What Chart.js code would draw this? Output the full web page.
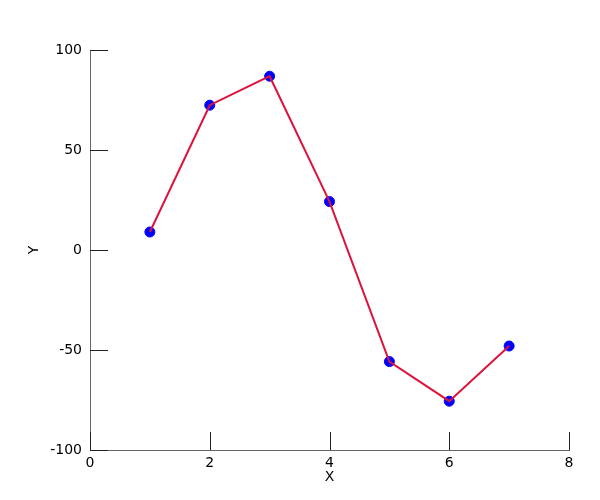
<!DOCTYPE html>
<html>
<head>
<meta charset="utf-8">
<script src="https://cdn.jsdelivr.net/npm/chart.js@4.4.1/dist/chart.umd.min.js"></script>
<style>
  html, body { margin: 0; padding: 0; background: #fff; }
  #wrap { width: 600px; height: 500px; }
</style>
</head>
<body>
<div id="wrap"><canvas id="chart" width="600" height="500"></canvas></div>
<script>
const xValues = [1, 2, 3, 4, 5, 6, 7];
const yValues = [9.0, 72.4, 86.9, 24.2, -55.8, -75.6, -48.0];
const xTicks = [0, 2, 4, 6, 8];
const yTicks = [-100, -50, 0, 50, 100];

const points = xValues.map((x, i) => ({ x, y: yValues[i] }));

// inward tick marks, like the original plot
const innerTicks = {
  id: "innerTicks",
  afterDraw(chart) {
    const { ctx, scales } = chart;
    const xs = scales.x, ys = scales.y;
    const len = 18;
    ctx.save();
    ctx.strokeStyle = "#222";
    ctx.lineWidth = 1;
    ctx.beginPath();
    xTicks.forEach((t) => {
      const px = Math.round(xs.getPixelForValue(t)) + 0.5;
      ctx.moveTo(px, ys.bottom);
      ctx.lineTo(px, ys.bottom - len);
    });
    yTicks.forEach((t) => {
      const py = Math.round(ys.getPixelForValue(t)) + 0.5;
      ctx.moveTo(xs.left, py);
      ctx.lineTo(xs.left + len, py);
    });
    ctx.stroke();
    ctx.restore();
  },
};

const font = { family: "DejaVu Sans", size: 14 };

new Chart(document.getElementById("chart").getContext("2d"), {
  type: "scatter",
  data: {
    datasets: [
      {
        label: "line",
        data: points,
        showLine: true,
        borderColor: "#dc143c",
        borderWidth: 2,
        pointRadius: 0,
        order: 1,
      },
      {
        label: "points",
        data: points,
        showLine: false,
        backgroundColor: "#0000ff",
        borderColor: "#0000ff",
        pointRadius: 5,
        order: 2,
      },
    ],
  },
  options: {
    responsive: false,
    animation: false,
    layout: { padding: { left: 0, top: 50, right: 31, bottom: 0 } },
    plugins: {
      legend: { display: false },
      tooltip: { enabled: false },
    },
    scales: {
      x: {
        type: "linear",
        min: 0,
        max: 8,
        afterFit: (s) => { s.height = 50; },
        afterBuildTicks: (s) => { s.ticks = xTicks.map((v) => ({ value: v })); },
        grid: { display: false, drawTicks: false },
        border: { display: true, color: "#666", width: 1 },
        ticks: { color: "#000", font, padding: 5, maxRotation: 0 },
        title: { display: true, text: "X", color: "#000", font, padding: { top: 0, bottom: 14 } },
      },
      y: {
        type: "linear",
        min: -100,
        max: 100,
        afterFit: (s) => { s.width = 90; },
        afterBuildTicks: (s) => { s.ticks = yTicks.map((v) => ({ value: v })); },
        grid: { display: false, drawTicks: false },
        border: { display: true, color: "#666", width: 1 },
        ticks: { color: "#000", font, padding: 8 },
        title: { display: true, text: "Y", color: "#000", font, padding: { top: 26, bottom: 0 } },
      },
    },
  },
  plugins: [innerTicks],
});
</script>
</body>
</html>
